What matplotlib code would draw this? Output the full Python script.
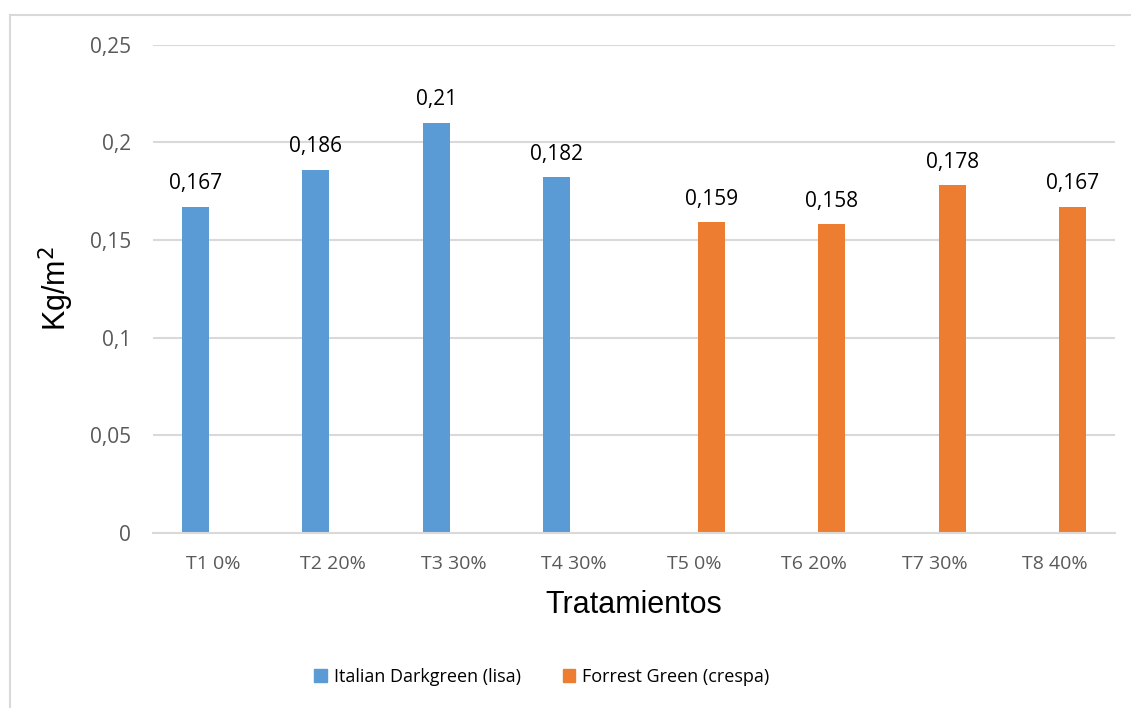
import numpy as np
import matplotlib
matplotlib.use("Agg")
import matplotlib.pyplot as plt
from matplotlib.lines import Line2D
from matplotlib.patches import Patch

# Tratamientos y rendimiento (Kg/m2)
categorias = ["T1 0%", "T2 20%", "T3 30%", "T4 30%", "T5 0%", "T6 20%", "T7 30%", "T8 40%"]
lisa = [0.167, 0.186, 0.21, 0.182]      # Italian Darkgreen, T1-T4
crespa = [0.159, 0.158, 0.178, 0.167]   # Forrest Green, T5-T8
series = ["Italian Darkgreen (lisa)", "Forrest Green (crespa)"]

azul = "#5B9BD5"
naranja = "#ED7D31"
gris = "#595959"
rejilla = "#D9D9D9"

plt.rcParams["font.family"] = ["Open Sans", "DejaVu Sans"]

W, H = 1131, 708
fig = plt.figure(figsize=(W / 100, H / 100), dpi=100)
ax = fig.add_axes([153 / W, 1 - 533 / H, 962 / W, 488.5 / H])

x = np.arange(len(categorias))
ancho = 0.225
desp = 0.146

b1 = ax.bar(x[:4] - desp, lisa, ancho, color=azul, label=series[0])
b2 = ax.bar(x[4:] + desp, crespa, ancho, color=naranja, label=series[1])

fmt = lambda v: str(v).replace(".", ",")
for barras in (b1, b2):
    ax.bar_label(barras, labels=[fmt(b.get_height()) for b in barras],
                 padding=9, fontsize=15, color="black")

ax.set_xlim(-0.5, len(categorias) - 0.5)
ax.set_ylim(0, 0.25)
ax.set_yticks([0, 0.05, 0.1, 0.15, 0.2, 0.25])
ax.set_yticklabels(["0", "0,05", "0,1", "0,15", "0,2", "0,25"])
ax.set_xticks(x)
ax.set_xticklabels(categorias)
ax.tick_params(axis="both", length=0, labelcolor=gris)
ax.tick_params(axis="x", pad=16, labelsize=14)
ax.tick_params(axis="y", pad=16, labelsize=15)

ax.grid(axis="y", color=rejilla, linewidth=1.5)
ax.set_axisbelow(True)
for lado in ["top", "right", "left"]:
    ax.spines[lado].set_visible(False)
ax.spines["bottom"].set_color(rejilla)
ax.spines["bottom"].set_linewidth(1.5)

ax.set_xlabel("Tratamientos", fontsize=22, family="Liberation Sans", labelpad=12)
ax.set_ylabel("Kg/m$^2$", fontsize=22, family="Liberation Sans", labelpad=10)

manejadores = [Patch(color=azul), Patch(color=naranja)]
fig.legend(manejadores, series, loc="center", bbox_to_anchor=(542 / W, 1 - 677 / H),
           ncol=2, frameon=False, fontsize=13, handlelength=0.7, handleheight=0.7,
           handletextpad=0.4, columnspacing=2.3)

# borde del grafico
fig.add_artist(Line2D([10 / W, 1], [1 - 15 / H, 1 - 15 / H], color=rejilla, linewidth=1.5))
fig.add_artist(Line2D([10 / W, 10 / W], [0, 1 - 15 / H], color=rejilla, linewidth=1.5))

fig.savefig("out.png", dpi=100, facecolor="white")
